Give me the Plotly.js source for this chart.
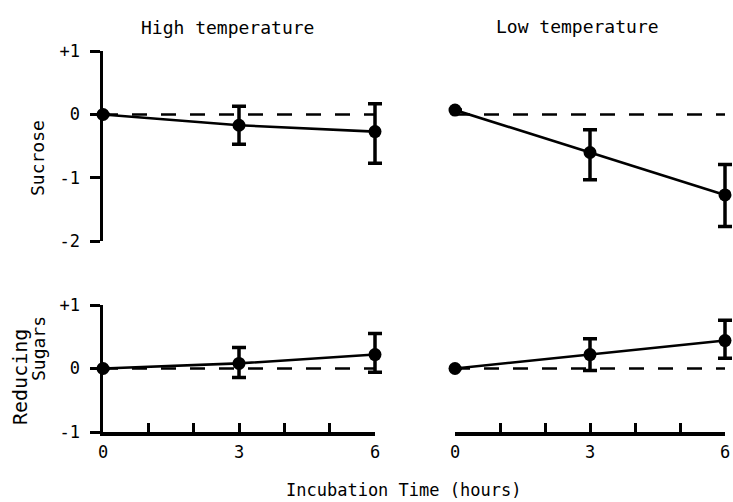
<!DOCTYPE html>
<html>
<head>
<meta charset="utf-8">
<script src="https://cdn.plot.ly/plotly-3.0.1.min.js"></script>
<style>html,body{margin:0;padding:0;background:#fff;}#chart{width:733px;height:502px;}</style>
</head>
<body>
<div id="chart"></div>
<script>
// ---- data ----
const hours = [0, 3, 6];
const baselineX = [0, 6];
const baselineY = [0, 0];

const sucroseHigh = [0, -0.17, -0.27];
const sucroseHighErrPlus = [0, 0.30, 0.44];
const sucroseHighErrMinus = [0, 0.30, 0.50];

const sucroseLow = [0.07, -0.60, -1.27];
const sucroseLowErrPlus = [0, 0.36, 0.48];
const sucroseLowErrMinus = [0, 0.43, 0.50];

const reducingHigh = [0, 0.08, 0.22];
const reducingHighErrPlus = [0, 0.25, 0.33];
const reducingHighErrMinus = [0, 0.22, 0.28];

const reducingLow = [0, 0.22, 0.44];
const reducingLowErrPlus = [0, 0.25, 0.32];
const reducingLowErrMinus = [0, 0.25, 0.28];

const sucroseTicks = [1, 0, -1, -2];
const sucroseTickText = ['+1', '0', '-1', '-2'];
const reducingTicks = [1, 0, -1];
const reducingTickText = ['+1', '0', '-1'];
const hourTicks = [0, 1, 2, 3, 4, 5, 6];
const hourTickText = ['0', '', '', '3', '', '', '6'];
const hourRange = [0, 6];

const panelTitles = ['High temperature', 'Low temperature'];
const yTitles = ['Sucrose', 'Reducing', 'Sugars'];
const xTitle = 'Incubation Time (hours)';

// ---- helpers ----
const FONT = 'DejaVu Sans Mono';
const W = 733, H = 502;
const px = v => v / W;
const py = v => 1 - v / H;

function series(x, y, ep, em, xa, ya) {
  return {
    x: x, y: y, xaxis: xa, yaxis: ya, type: 'scatter', mode: 'lines+markers',
    cliponaxis: false, showlegend: false, hoverinfo: 'skip',
    line: {color: '#000', width: 2.6},
    marker: {color: '#000', size: 13},
    error_y: {type: 'data', symmetric: false, array: ep, arrayminus: em,
              color: '#000', thickness: 3.5, width: 7}
  };
}
function baseline(xa, ya) {
  return {
    x: baselineX, y: baselineY, xaxis: xa, yaxis: ya, type: 'scatter', mode: 'lines',
    showlegend: false, hoverinfo: 'skip', cliponaxis: false,
    line: {color: '#000', width: 2.6, dash: '15px,14px'}
  };
}

// bottom baselines live on the visible 0–6 h axes (x5, x6) so those axes get drawn
const data = [
  baseline('x', 'y'), series(hours, sucroseHigh, sucroseHighErrPlus, sucroseHighErrMinus, 'x', 'y'),
  baseline('x2', 'y2'), series(hours, sucroseLow, sucroseLowErrPlus, sucroseLowErrMinus, 'x2', 'y2'),
  baseline('x5', 'y3'), series(hours, reducingHigh, reducingHighErrPlus, reducingHighErrMinus, 'x3', 'y3'),
  baseline('x6', 'y4'), series(hours, reducingLow, reducingLowErrPlus, reducingLowErrMinus, 'x4', 'y4')
];

// pixel scale: ~45.3 px per hour (left), 45 px per hour (right)
const leftX0 = 103, leftX6 = 375, leftEnd = 405;
const rightX0 = 455, rightX6 = 725, rightEnd = 733;
const leftDataDom = [px(leftX0), px(leftEnd)];
const rightDataDom = [px(rightX0), px(rightEnd)];
const leftAxisDom = [px(leftX0), px(leftX6)];
const rightAxisDom = [px(rightX0), px(rightX6)];
const leftDataRange = [0, 6 * (leftEnd - leftX0) / (leftX6 - leftX0)];
const rightDataRange = [0, 6 * (rightEnd - rightX0) / (rightX6 - rightX0)];
const topDom = [py(241.1), py(51.2)];
const botDom = [py(432), py(305)];

const tickFont = {family: FONT, size: 17, color: '#000'};

function dataX(dom, range, anchor) {
  return {domain: dom, range: range, anchor: anchor, showline: false, showgrid: false,
          zeroline: false, showticklabels: false, ticks: ''};
}
function hiddenY(dom, anchor, range) {
  return {domain: dom, range: range, anchor: anchor, showline: false, showgrid: false,
          zeroline: false, showticklabels: false, ticks: ''};
}
function timeAxis(dom, anchor) {
  return {domain: dom, range: hourRange, anchor: anchor, showline: true, linecolor: '#000',
          linewidth: 3.5, showgrid: false, zeroline: false, ticks: 'inside', ticklen: 9,
          tickwidth: 3, tickcolor: '#000', tickvals: hourTicks, ticktext: hourTickText,
          tickfont: tickFont, ticklabelstandoff: 2};
}
function valueAxis(dom, anchor, range, tv, tt) {
  return {domain: dom, range: range, anchor: anchor, showline: true, linecolor: '#000',
          linewidth: 3.5, showgrid: false, zeroline: false, ticks: 'outside', ticklen: 10,
          tickwidth: 3, tickcolor: '#000', tickvals: tv, ticktext: tt,
          tickfont: tickFont, ticklabelstandoff: 6};
}
function ann(text, x, y, size, angle) {
  return {text: text, xref: 'paper', yref: 'paper', x: px(x), y: py(y),
          xanchor: 'center', yanchor: 'middle', textangle: angle || 0,
          showarrow: false, font: {family: FONT, size: size, color: '#000'}};
}

const layout = {
  width: W, height: H,
  margin: {l: 0, r: 0, t: 0, b: 0},
  paper_bgcolor: '#fff', plot_bgcolor: 'rgba(0,0,0,0)',
  font: {family: FONT, color: '#000'},
  showlegend: false,
  xaxis: dataX(leftDataDom, leftDataRange, 'y'),
  yaxis: valueAxis(topDom, 'x', [-2, 1], sucroseTicks, sucroseTickText),
  xaxis2: dataX(rightDataDom, rightDataRange, 'y2'),
  yaxis2: hiddenY(topDom, 'x2', [-2, 1]),
  xaxis3: dataX(leftDataDom, leftDataRange, 'y3'),
  yaxis3: valueAxis(botDom, 'x3', [-1, 1], reducingTicks, reducingTickText),
  xaxis4: dataX(rightDataDom, rightDataRange, 'y4'),
  yaxis4: hiddenY(botDom, 'x4', [-1, 1]),
  // visible time axes (0–6 h only)
  xaxis5: timeAxis(leftAxisDom, 'y3'),
  xaxis6: timeAxis(rightAxisDom, 'y4'),
  annotations: [
    ann(panelTitles[0], 228, 28, 18),
    ann(panelTitles[1], 577, 27, 18),
    ann(yTitles[0], 38, 158, 18, -90),
    ann(yTitles[1], 20, 377, 20, -90),
    ann(yTitles[2], 38, 349, 18, -90),
    ann(xTitle, 403, 490, 17)
  ]
};

Plotly.newPlot('chart', data, layout, {displayModeBar: false, staticPlot: true});
</script>
</body>
</html>
